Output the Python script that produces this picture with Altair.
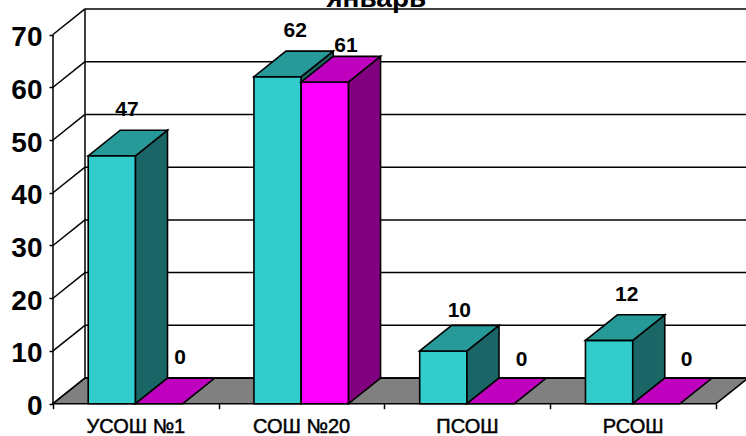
import altair as alt
import pandas as pd

# Chart content
schools = ["УСОШ №1", "СОШ №20", "ПСОШ", "РСОШ"]
series_a = [47, 62, 10, 12]
series_b = [0, 61, 0, 0]
y_ticks = [0, 10, 20, 30, 40, 50, 60, 70]
x_ticks = [0, 1, 2, 3, 4]
title_text = "январь"

# Small hand placement of the value labels, in axis units: (across, up)
nudge_a = [(-0.005, 0.0), (0.01, 0.0), (0.0, -1.0), (0.01, 0.0)]
nudge_b = [(0.03, 0.0), (0.03, -1.8), (0.09, -0.4), (0.085, -0.4)]

# Oblique projection of the box: one category is 165.75 px wide, ten units are 52.74 px tall
W, H = 746, 436
PX_X = 165.75
PX_Y = 5.274
LEFT, BASE = 53.0, 403.7
DX = 32.0 / PX_X
DY = 25.6 / PX_Y
GAP = 35.2 / PX_X
BAR = 47.3 / PX_X
CATS = len(schools)
TOP = 70

x_scale = alt.Scale(domain=[-LEFT / PX_X, (W - LEFT) / PX_X], range=[0, W], nice=False, zero=False)
y_scale = alt.Scale(domain=[-(H - BASE) / PX_Y, BASE / PX_Y], range=[H, 0], nice=False, zero=False)

FRONT_A, TOP_A, SIDE_A = "#33CCCC", "#269999", "#1A6666"
FRONT_B, TOP_B, SIDE_B = "#FF00FF", "#BF00BF", "#800080"
FLOOR = "#808080"


def polygons():
    rows = []
    pid = 0

    def add(points, fill):
        nonlocal pid
        for x, y, y2 in points:
            rows.append({"x": x, "y": y, "y2": y2, "fill": fill, "poly": pid})
        pid += 1

    # floor
    add(
        [
            (0, 0, 0),
            (DX, DY, 0),
            (CATS, DY, 0),
            (CATS + DX, DY, DY),
        ],
        FLOOR,
    )

    def box(x0, v, front, top, side):
        x1 = x0 + BAR
        if v > 0:
            add([(x0, v, 0), (x1, v, 0)], front)
            add([(x1, v, 0), (x1 + DX, v + DY, DY)], side)
        add(
            [
                (x0, v, v),
                (x0 + DX, v + DY, v),
                (x1, v + DY, v),
                (x1 + DX, v + DY, v + DY),
            ],
            top,
        )

    for i in range(CATS):
        box(i + GAP, series_a[i], FRONT_A, TOP_A, SIDE_A)
        box(i + GAP + BAR, series_b[i], FRONT_B, TOP_B, SIDE_B)
    return pd.DataFrame(rows)


def wall_lines():
    rows = []
    lid = 0

    def add(a, b):
        nonlocal lid
        rows.append({"x": a[0], "y": a[1], "k": lid, "o": 0})
        rows.append({"x": b[0], "y": b[1], "k": lid, "o": 1})
        lid += 1

    for v in y_ticks:
        add((0, v), (DX, v + DY))
        add((DX, v + DY), (CATS + DX, v + DY))
    add((0, 0), (0, TOP))
    add((DX, DY), (DX, TOP + DY))
    return pd.DataFrame(rows)


def value_labels():
    rows = []
    for i in range(CATS):
        for v, j, nudge in ((series_a[i], 0, nudge_a[i]), (series_b[i], 1, nudge_b[i])):
            rows.append(
                {
                    "x": i + GAP + j * BAR + (BAR + DX) / 2 + nudge[0],
                    "y": v + DY + 3.8 + nudge[1],
                    "label": str(v),
                }
            )
    return pd.DataFrame(rows)


FONT = "Liberation Sans"

# Both axes sit inside the plot area, on the front edge of the box
x_enc = alt.X(
    "x:Q",
    scale=x_scale,
    axis=alt.Axis(
        values=x_ticks,
        labels=False,
        title=None,
        grid=False,
        domain=False,
        ticks=True,
        tickSize=5,
        tickWidth=1.5,
        tickColor="black",
        offset=BASE - H,
        orient="bottom",
    ),
)
y_enc = alt.Y(
    "y:Q",
    scale=y_scale,
    stack=None,
    axis=alt.Axis(
        values=y_ticks,
        title=None,
        grid=False,
        domain=False,
        tickSize=4,
        tickWidth=1.5,
        tickColor="black",
        labelFont=FONT,
        labelFontSize=28,
        labelFontWeight="bold",
        labelColor="black",
        labelPadding=7,
        labelOffset=3,
        labelBound=False,
        labelFlush=False,
        labelOverlap=False,
        offset=-LEFT,
        orient="left",
    ),
)

lines = (
    alt.Chart(wall_lines())
    .mark_line(color="black", strokeWidth=1.5, clip=True)
    .encode(x=x_enc, y=y_enc, detail="k:N", order="o:Q")
)

boxes = (
    alt.Chart(polygons())
    .mark_area(stroke="black", strokeWidth=1.6, strokeJoin="miter", clip=True, interpolate="linear", opacity=1)
    .encode(
        x=x_enc,
        y=y_enc,
        y2="y2:Q",
        color=alt.Color("fill:N", scale=None),
        detail="poly:N",
    )
)

numbers = (
    alt.Chart(value_labels())
    .mark_text(font=FONT, fontSize=21, fontWeight="bold", color="black", align="center", baseline="middle")
    .encode(x=x_enc, y=y_enc, text="label:N")
)

categories = (
    alt.Chart(pd.DataFrame({"x": [i + 0.5 for i in range(CATS)], "y": [-4.4] * CATS, "label": schools}))
    .mark_text(font=FONT, fontSize=20, fontWeight="normal", color="black", stroke="black", strokeWidth=0.5, align="center", baseline="middle")
    .encode(x=x_enc, y=y_enc, text="label:N")
)

heading = (
    alt.Chart(pd.DataFrame({"x": [CATS / 2 - 0.05], "y": [75.2], "label": [title_text]}))
    .mark_text(font=FONT, fontSize=28, fontWeight="bold", color="black", align="center", baseline="alphabetic")
    .encode(x=x_enc, y=y_enc, text="label:N")
)

chart = (
    alt.layer(lines, boxes, numbers, categories, heading)
    .properties(width=W, height=H, padding=0, autosize="none", background="white")
    .configure_view(stroke=None)
)

chart.save("out.html", embed_options={"renderer": "svg", "actions": False})
